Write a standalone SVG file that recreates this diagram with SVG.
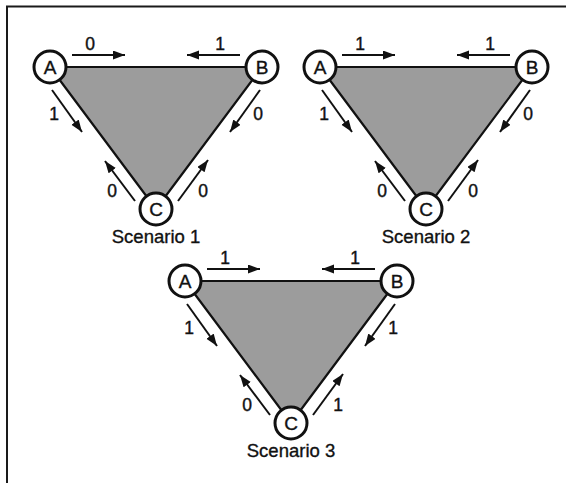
<svg xmlns="http://www.w3.org/2000/svg" width="566" height="483" viewBox="0 0 566 483">
<style>
.frame{stroke:#1a1a1a;stroke-width:2;fill:none}
.tri{fill:#9c9c9c;stroke:#111;stroke-width:2.2;stroke-linejoin:round}
.arr{stroke:#111;stroke-width:2;fill:none;marker-end:url(#ah)}
.node circle{fill:#fff;stroke:#111;stroke-width:3}
.node text{font-family:"Liberation Sans",Arial,sans-serif;font-size:19px;fill:#111;stroke:#111;stroke-width:0.35;text-anchor:middle}
.lbl{font-family:"Liberation Sans",Arial,sans-serif;font-size:17.5px;fill:#111;stroke:#111;stroke-width:0.4;text-anchor:middle}
.cap{font-family:"Liberation Sans",Arial,sans-serif;font-size:18.5px;fill:#111;stroke:#111;stroke-width:0.35;text-anchor:middle}
</style>
<defs>
<marker id="ah" markerUnits="userSpaceOnUse" markerWidth="13" markerHeight="10" refX="12" refY="4.5" orient="auto">
<path d="M0,0 L12,4.5 L0,9 z" fill="#111"/>
</marker>
</defs>
<rect width="566" height="483" fill="#fff"/>
<path class="frame" d="M7,483 V6.5 H566"/>

<!-- Scenario 1 -->
<g id="scenario1" transform="translate(50,67)">
<g id="s1-connectors">
<polygon class="tri" points="0,0 212,0 106,142"/>
<line class="arr" x1="22" y1="-12" x2="75" y2="-12"/>
<line class="arr" x1="190" y1="-12" x2="137" y2="-12"/>
<line class="arr" x1="2" y1="23" x2="32" y2="65"/>
<line class="arr" x1="210" y1="23" x2="180" y2="65"/>
<line class="arr" x1="85" y1="134" x2="55" y2="94"/>
<line class="arr" x1="128" y1="134" x2="158" y2="93"/>
<text class="lbl" x="40" y="-17">0</text>
<text class="lbl" x="170" y="-17">1</text>
<text class="lbl" x="4" y="53">1</text>
<text class="lbl" x="208" y="53">0</text>
<text class="lbl" x="62" y="130">0</text>
<text class="lbl" x="153" y="130">0</text>
</g>
<g id="s1-A" class="node"><circle cx="0" cy="0" r="16"/><text x="0" y="7">A</text></g>
<g id="s1-B" class="node"><circle cx="212" cy="0" r="16"/><text x="212" y="7">B</text></g>
<g id="s1-C" class="node"><circle cx="106" cy="142" r="16"/><text x="106" y="149">C</text></g>
<text class="cap" x="106" y="176">Scenario 1</text>
</g>

<!-- Scenario 2 -->
<g id="scenario2" transform="translate(320,67)">
<g id="s2-connectors">
<polygon class="tri" points="0,0 212,0 106,142"/>
<line class="arr" x1="22" y1="-12" x2="75" y2="-12"/>
<line class="arr" x1="190" y1="-12" x2="137" y2="-12"/>
<line class="arr" x1="2" y1="23" x2="32" y2="65"/>
<line class="arr" x1="210" y1="23" x2="180" y2="65"/>
<line class="arr" x1="85" y1="134" x2="55" y2="94"/>
<line class="arr" x1="128" y1="134" x2="158" y2="93"/>
<text class="lbl" x="40" y="-17">1</text>
<text class="lbl" x="170" y="-17">1</text>
<text class="lbl" x="4" y="53">1</text>
<text class="lbl" x="208" y="53">0</text>
<text class="lbl" x="62" y="130">0</text>
<text class="lbl" x="153" y="130">0</text>
</g>
<g id="s2-A" class="node"><circle cx="0" cy="0" r="16"/><text x="0" y="7">A</text></g>
<g id="s2-B" class="node"><circle cx="212" cy="0" r="16"/><text x="212" y="7">B</text></g>
<g id="s2-C" class="node"><circle cx="106" cy="142" r="16"/><text x="106" y="149">C</text></g>
<text class="cap" x="106" y="176">Scenario 2</text>
</g>

<!-- Scenario 3 -->
<g id="scenario3" transform="translate(185,281)">
<g id="s3-connectors">
<polygon class="tri" points="0,0 212,0 106,142"/>
<line class="arr" x1="22" y1="-12" x2="75" y2="-12"/>
<line class="arr" x1="190" y1="-12" x2="137" y2="-12"/>
<line class="arr" x1="2" y1="23" x2="32" y2="65"/>
<line class="arr" x1="210" y1="23" x2="180" y2="65"/>
<line class="arr" x1="85" y1="134" x2="55" y2="94"/>
<line class="arr" x1="128" y1="134" x2="158" y2="93"/>
<text class="lbl" x="40" y="-17">1</text>
<text class="lbl" x="170" y="-17">1</text>
<text class="lbl" x="4" y="53">1</text>
<text class="lbl" x="208" y="53">1</text>
<text class="lbl" x="62" y="130">0</text>
<text class="lbl" x="153" y="130">1</text>
</g>
<g id="s3-A" class="node"><circle cx="0" cy="0" r="16"/><text x="0" y="7">A</text></g>
<g id="s3-B" class="node"><circle cx="212" cy="0" r="16"/><text x="212" y="7">B</text></g>
<g id="s3-C" class="node"><circle cx="106" cy="142" r="16"/><text x="106" y="149">C</text></g>
<text class="cap" x="106" y="176">Scenario 3</text>
</g>
</svg>
